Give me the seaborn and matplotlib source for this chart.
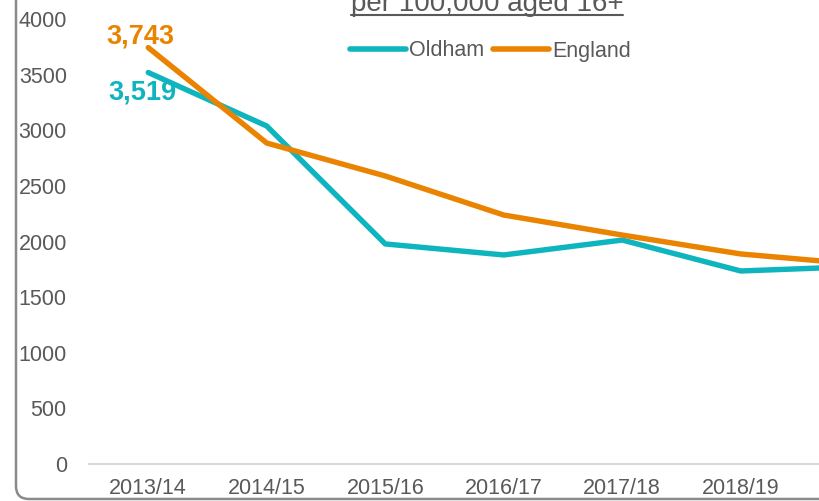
import matplotlib
matplotlib.use("Agg")
import matplotlib.pyplot as plt
import seaborn as sns
import pandas as pd
from matplotlib.patches import FancyBboxPatch
from matplotlib.lines import Line2D
from matplotlib.transforms import IdentityTransform

# data (last year is cut off at the right edge)
years = ['2013/14', '2014/15', '2015/16', '2016/17', '2017/18', '2018/19', '2019/20']
oldham = [3519, 3038, 1978, 1879, 2013, 1735, 1775]
england = [3743, 2885, 2589, 2238, 2058, 1888, 1795]

teal = '#0FB5BE'
orange = '#EA8300'
grey = '#595959'

df = pd.DataFrame({
    'year': years * 2,
    'rate': oldham + england,
    'area': ['Oldham'] * len(years) + ['England'] * len(years),
})

sns.set_style('white')
plt.rcParams['font.family'] = ['Liberation Sans', 'DejaVu Sans']

fig = plt.figure(figsize=(8.19, 5.01), dpi=100)
W, H = 819, 501
# plot area runs off the right edge of the picture, like the cropped original
ax = fig.add_axes([89 / W, 37 / H, 7 * 118.5 / W, 445 / H])

sns.lineplot(data=df, x='year', y='rate', hue='area', palette={'Oldham': teal, 'England': orange},
             linewidth=3.9, ax=ax, legend=False, sort=False)

ax.set_xlim(-0.5, len(years) - 0.5)
ax.set_ylim(0, 4000)
ax.set_yticks(range(0, 4001, 500))
ax.set_xlabel('')
ax.set_ylabel('')
for s in ['top', 'right', 'left']:
    ax.spines[s].set_visible(False)
ax.spines['bottom'].set_color('#d9d9d9')
ax.spines['bottom'].set_linewidth(1.5)
ax.tick_params(axis='y', length=0, pad=16, labelsize=15.5, labelcolor=grey)
ax.tick_params(axis='x', length=0, pad=10, labelsize=15.5, labelcolor=grey)
# last category label lies outside the cropped picture
ax.get_xticklabels()[-1].set_visible(False)

# first-year value labels
ax.annotate(f'{england[0]:,}', (0, england[0]), xytext=(-8, 11), textcoords='offset pixels',
            ha='center', va='center', fontsize=19.5, fontweight='bold', color=orange)
ax.annotate(f'{oldham[0]:,}', (0, oldham[0]), xytext=(-6, -20), textcoords='offset pixels',
            ha='center', va='center', fontsize=19.5, fontweight='bold', color=teal)

# legend
handles = [Line2D([0], [0], color=teal, lw=4, solid_capstyle='round'),
           Line2D([0], [0], color=orange, lw=4, solid_capstyle='round')]
fig.legend(handles, ['Oldham', 'England'], loc='center left', bbox_to_anchor=(350 / W, 1 - 51 / H),
           ncol=2, frameon=False, fontsize=15.5, handlelength=2.6, handletextpad=0.15,
           columnspacing=0.4, borderpad=0, borderaxespad=0, labelcolor=grey)

# title (top line is cropped away), underlined
title = fig.text(487 / W, 1 - 11 / H, 'per 100,000 aged 16+', ha='center', va='baseline',
                 fontsize=20, color=grey)
fig.canvas.draw()
bb = title.get_window_extent()
fig.add_artist(Line2D([bb.x0, bb.x1], [H - 15, H - 15], transform=IdentityTransform(),
                      color=grey, lw=1.5))

# rounded chart-area border
fig.add_artist(FancyBboxPatch((16, 2), 1000, 700, boxstyle='round,pad=0,rounding_size=13',
                              transform=IdentityTransform(), fill=False,
                              edgecolor='#8a8a8a', lw=1.8))

fig.savefig('out.png', dpi=100)
